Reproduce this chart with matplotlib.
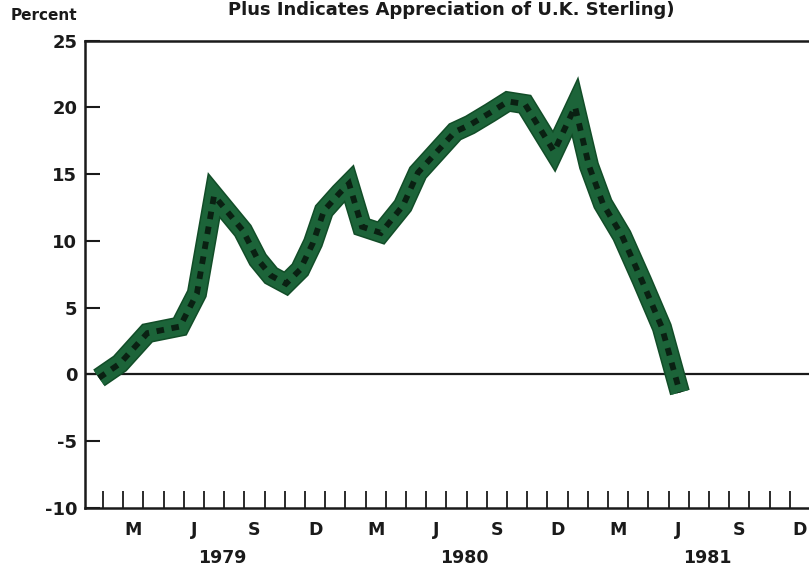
import matplotlib
matplotlib.use('Agg')
import matplotlib.pyplot as plt
from matplotlib.ticker import FixedLocator

# position in months counted from 1 Jan 1979, and percent change
month_pos = [0.80, 1.84, 3.20, 4.81, 5.65, 6.50, 7.93, 8.67, 9.32, 10.06,
             10.76, 11.40, 11.94, 12.73, 13.18, 13.82, 14.76, 15.85, 16.59, 18.43,
             19.17, 20.16, 21.05, 21.89, 23.33, 24.37, 25.06, 25.75, 26.69, 27.68,
             28.67, 29.56]
pct = [-0.26, 0.82, 3.10, 3.59, 6.06, 13.40, 10.77, 8.60, 7.40, 6.80,
       7.85, 9.87, 12.27, 13.61, 14.30, 11.07, 10.60, 12.64, 15.11, 18.18,
       18.70, 19.60, 20.45, 20.25, 16.70, 20.05, 15.63, 12.79, 10.40, 7.03,
       3.52, -1.35]

month_letters = ['M', 'J', 'S', 'D'] * 3
years = ['1979', '1980', '1981']
y_ticks = [-10, -5, 0, 5, 10, 15, 20, 25]

plt.rcParams['font.family'] = ['DejaVu Sans']
plt.rcParams['font.weight'] = 'bold'
plt.rcParams['axes.unicode_minus'] = False

fig = plt.figure(figsize=(8.09, 5.69), dpi=100)
ax = fig.add_axes([0.1048, 0.1072, 0.8964, 0.8213])
ax.set_xlim(0.1, 36)
ax.set_ylim(-10, 25)

ax.spines['right'].set_visible(False)
for s in ['left', 'top', 'bottom']:
    ax.spines[s].set_linewidth(1.8)
    ax.spines[s].set_color('#1a1a1a')

ax.axhline(0, color='#1a1a1a', lw=1.6, zorder=1)

# thick green band with a dark dotted core
ax.plot(month_pos, pct, color='#124d28', lw=14.6,
        solid_joinstyle='miter', solid_capstyle='butt', zorder=3)
ax.plot(month_pos, pct, color='#1c6439', lw=12.4,
        solid_joinstyle='miter', solid_capstyle='butt', zorder=4)
ax.plot(month_pos, pct, color='#0a2012', lw=4.2, linestyle=(0, (1.3, 1.3)),
        dash_joinstyle='miter', dash_capstyle='butt', zorder=5)

ax.set_yticks(y_ticks)
ax.tick_params(axis='y', direction='in', length=10.8, width=1.5, pad=5.5,
               labelsize=13, colors='#1a1a1a')

ax.set_xticks([2.5 + 3 * i for i in range(len(month_letters))])
ax.set_xticklabels(month_letters)
ax.xaxis.set_minor_locator(FixedLocator(range(1, 36)))
ax.tick_params(axis='x', which='major', length=0, pad=9, labelsize=12.5,
               colors='#1a1a1a')
ax.tick_params(axis='x', which='minor', direction='in', length=12.5,
               width=1.3, color='#1a1a1a')

for k, yr in enumerate(years):
    ax.text(12 * k + 6.9, -0.107, yr, transform=ax.get_xaxis_transform(),
            ha='center', va='center', fontsize=12.5, fontweight='bold',
            color='#1a1a1a', clip_on=False)

fig.text(44 / 809, 1 - 15 / 569, 'Percent', ha='center', va='center',
         fontsize=11, fontweight='bold', color='#1a1a1a')
fig.text(451 / 809, 1 - 10 / 569, 'Plus Indicates Appreciation of U.K. Sterling)',
         ha='center', va='center', fontsize=13, fontweight='bold', color='#1a1a1a')

fig.savefig('out.png', dpi=100)
